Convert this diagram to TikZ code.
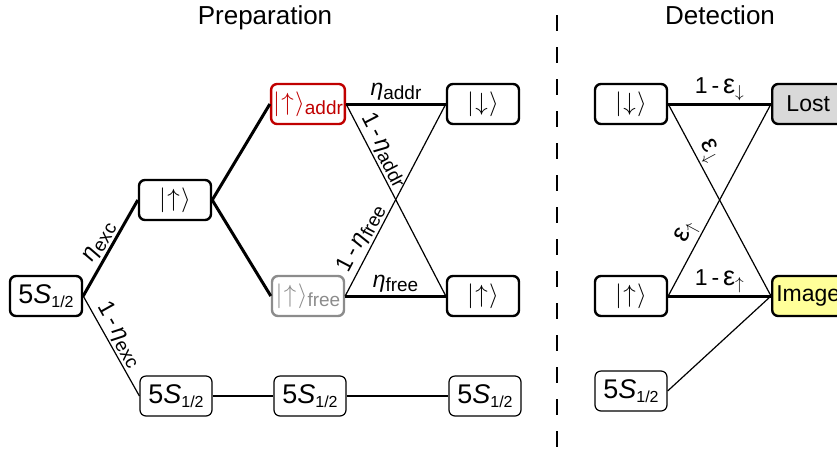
\documentclass[tikz,border=0pt]{standalone}
\usepackage{fontspec}
\setmainfont{Liberation Sans}
\newcommand{\lo}[2][19]{\raisebox{-4pt}{\fontsize{#1}{#1}\selectfont #2}}
\newcommand{\kt}[1]{{\fontsize{23}{26}\selectfont$|\mkern1mu{#1}\mkern1mu\rangle$}}
\newcommand{\gnd}{{\fontsize{27}{30}\selectfont 5\textit{S}}\lo[16]{1/2}}
\newcommand{\eps}{{\fontsize{27}{30}\selectfont ε}}
\definecolor{addrred}{RGB}{192,0,0}
\definecolor{freegray}{RGB}{140,140,140}
\definecolor{lostgray}{RGB}{217,217,217}
\definecolor{imgyellow}{RGB}{255,255,153}
\begin{document}
\begin{tikzpicture}[x=1pt,y=-1pt,
  state/.style={draw,line width=2.4pt,rounded corners=6pt,minimum width=72pt,
    minimum height=40pt,inner sep=2pt,font=\fontsize{23}{27}\selectfont},
  thinstate/.style={state,line width=1.2pt},
  strong/.style={line width=3pt},
  weak/.style={line width=1.2pt},
  lbl/.style={inner sep=2pt,font=\fontsize{23}{27}\selectfont},
  title/.style={anchor=base,font=\fontsize{26}{30}\selectfont}]
\clip (0,0) rectangle (837,451);
\useasboundingbox (0,0) rectangle (837,451);
% titles and divider
\node[title] (prep) at (265,24) {Preparation};
\node[title] (det) at (720,24) {Detection};
\coordinate (divtop) at (557,15);
\coordinate (divbot) at (557,451);
\draw[line width=2pt,dash pattern=on 16pt off 16pt] (divtop) -- (divbot);
% preparation
\node[state] (g0) at (46,296) {\gnd};
\node[state] (up) at (175,200) {\kt{\uparrow}};
\node[state,draw=addrred,text=addrred] (ua) at (308,104) {\kt{\uparrow}\lo{addr}};
\node[state,draw=freegray,text=freegray] (uf) at (308,296) {\kt{\uparrow}\lo{free}};
\node[state] (dn) at (483,104) {\kt{\downarrow}};
\node[state] (ur) at (483,296) {\kt{\uparrow}};
\node[thinstate] (g1) at (176,396) {\gnd};
\node[thinstate] (g2) at (310,396) {\gnd};
\node[thinstate] (g3) at (485,396) {\gnd};
\draw[strong] (g0.east) -- node[lbl,above,sloped] {\textit{η}\lo{exc}} (up.west);
\draw[weak] (g0.east) -- node[lbl,above,sloped,pos=0.45] {1\,-\,\textit{η}\lo{exc}} (g1.west);
\draw[strong] (up.east) -- (ua.west);
\draw[strong] (up.east) -- (uf.west);
\draw[strong] (ua.east) -- node[lbl,above] {\textit{η}\lo{addr}} (dn.west);
\draw[weak] (ua.east) -- node[lbl,above,sloped,pos=0.27] {1\,-\,\textit{η}\lo{addr}} (ur.west);
\draw[weak] (uf.east) -- node[lbl,above,sloped,pos=0.27] {1\,-\,\textit{η}\lo{free}} (dn.west);
\draw[strong] (uf.east) -- node[lbl,above] {\textit{η}\lo{free}} (ur.west);
\draw[weak] (g1) -- (g2) -- (g3);
% detection
\node[state] (ddn) at (631,104) {\kt{\downarrow}};
\node[state] (dup) at (631,296) {\kt{\uparrow}};
\node[thinstate] (dg) at (631,391) {\gnd};
\node[state,fill=lostgray,anchor=west] (lost) at (771,104) {Lost};
\node[state,fill=imgyellow,anchor=west] (img) at (771,296) {Image};
\draw[strong] (ddn.east) -- node[lbl,above] {1\,-\,\eps\textsubscript{$\downarrow$}} (lost.west);
\draw[weak] (ddn.east) -- node[lbl,above,sloped,pos=0.28] {\eps\textsubscript{$\downarrow$}} (img.west);
\draw[weak] (dup.east) -- node[lbl,above,sloped,pos=0.3] {\eps\textsubscript{$\uparrow$}} (lost.west);
\draw[strong] (dup.east) -- node[lbl,above] {1\,-\,\eps\textsubscript{$\uparrow$}} (img.west);
\draw[weak] (dg.east) -- (img.west);
\end{tikzpicture}
\end{document}
